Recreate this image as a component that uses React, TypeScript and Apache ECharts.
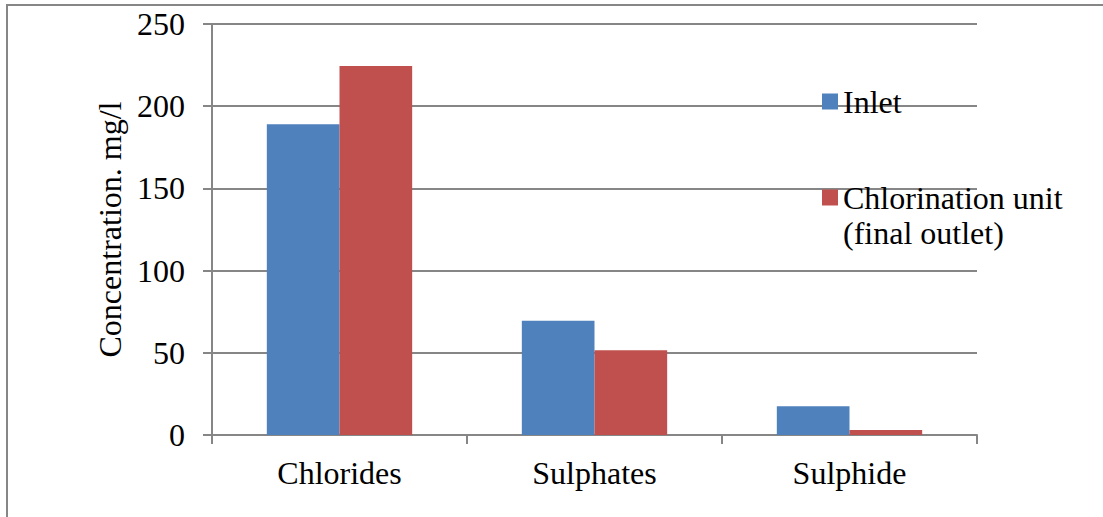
import React, { useEffect, useRef } from "react";
import * as echarts from "echarts";

const categories = ["Chlorides", "Sulphates", "Sulphide"];
const inletValues = [189, 69.5, 17.5];
const outletValues = [224.5, 51.5, 3];
const seriesNames = ["Inlet", "Chlorination unit\n(final outlet)"];
const yAxisTitle = "Concentration. mg/l";

const FONT = "'Liberation Serif', 'Times New Roman', serif";
const GREY = "#868686";
const FS = 32;

export default function App() {
  const ref = useRef<HTMLDivElement>(null);
  useEffect(() => {
    document.body.style.margin = "0";
    const chart = echarts.init(ref.current!, null, { renderer: "svg" });
    const legendCommon = {
      orient: "vertical",
      left: 822,
      padding: 0,
      itemWidth: 16,
      itemHeight: 16,
      icon: "rect",
      textStyle: { fontFamily: FONT, fontSize: FS, color: "#000", lineHeight: 35 },
    };
    chart.setOption({
      animation: false,
      backgroundColor: "#ffffff",
      textStyle: { fontFamily: FONT, color: "#000" },
      grid: { left: 212, right: 126, top: 24, bottom: 82, containLabel: false },
      legend: [
        { ...legendCommon, top: 84, data: [seriesNames[0]] },
        {
          ...legendCommon,
          top: 145,
          data: [seriesNames[1]],
          formatter: (name: string) => "\n" + name,
        },
      ],
      xAxis: {
        type: "category",
        data: categories,
        axisLine: { lineStyle: { color: GREY, width: 2 } },
        axisTick: { show: true, length: 9, alignWithLabel: false, lineStyle: { color: GREY, width: 2 } },
        axisLabel: { fontFamily: FONT, fontSize: FS, color: "#000", margin: 22 },
      },
      yAxis: {
        type: "value",
        min: 0,
        max: 250,
        interval: 50,
        name: yAxisTitle,
        nameLocation: "middle",
        nameGap: 86,
        nameRotate: 90,
        nameTextStyle: { fontFamily: FONT, fontSize: FS, color: "#000" },
        axisLine: { show: true, lineStyle: { color: GREY, width: 2 } },
        axisTick: { show: true, length: 9, lineStyle: { color: GREY, width: 2 } },
        splitLine: { lineStyle: { color: GREY, width: 2 } },
        axisLabel: { fontFamily: FONT, fontSize: FS, color: "#000", margin: 27 },
      },
      series: [
        {
          name: seriesNames[0],
          type: "bar",
          data: inletValues,
          itemStyle: { color: "#4F81BD" },
          barGap: "0%",
          barCategoryGap: "43%",
        },
        {
          name: seriesNames[1],
          type: "bar",
          data: outletValues,
          itemStyle: { color: "#C0504D" },
          barGap: "0%",
          barCategoryGap: "43%",
        },
      ],
      graphic: [
        { type: "line", shape: { x1: 7, y1: 5, x2: 7, y2: 517 }, style: { stroke: GREY, lineWidth: 2 } },
        { type: "line", shape: { x1: 6, y1: 5, x2: 1103, y2: 5 }, style: { stroke: GREY, lineWidth: 2 } },
      ],
    });
    return () => chart.dispose();
  }, []);
  return <div ref={ref} style={{ position: "absolute", left: 0, top: 0, width: 1103, height: 517 }} />;
}
